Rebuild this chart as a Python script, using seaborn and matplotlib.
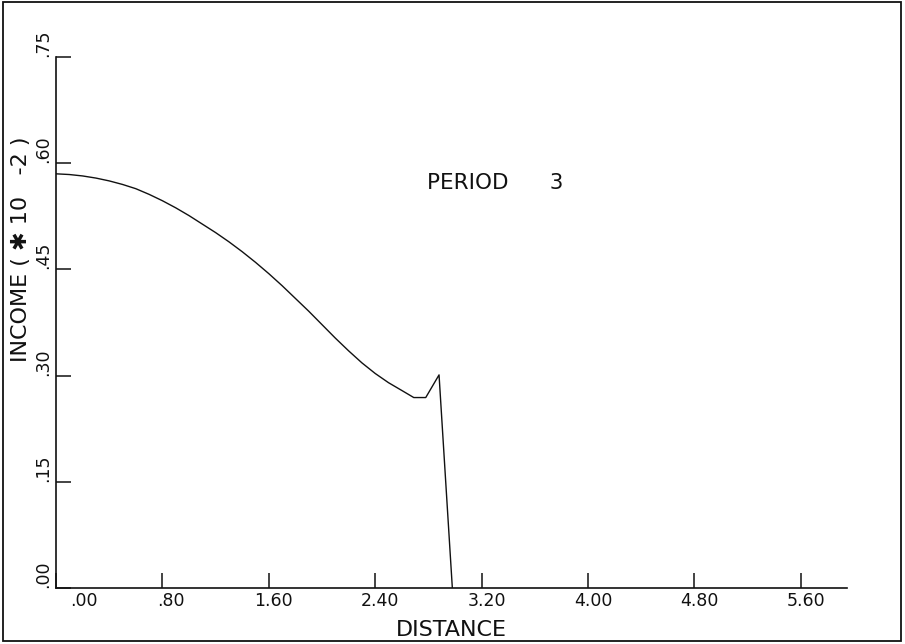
import matplotlib
matplotlib.use("Agg")
import matplotlib.pyplot as plt
from matplotlib.patches import Rectangle
from matplotlib.transforms import ScaledTranslation
import seaborn as sns
import pandas as pd

# ---- data ----
distance = [0.0, 0.1, 0.2, 0.3, 0.4, 0.5, 0.6, 0.7, 0.8, 0.9, 1.0, 1.1, 1.2, 1.3,
            1.4, 1.5, 1.6, 1.7, 1.8, 1.9, 2.0, 2.1, 2.2, 2.3, 2.4, 2.5, 2.6,
            2.69, 2.78, 2.88, 2.98]
income = [0.585, 0.584, 0.582, 0.579, 0.575, 0.570, 0.564, 0.556, 0.547, 0.537,
          0.526, 0.514, 0.502, 0.489, 0.475, 0.460, 0.444, 0.427, 0.409, 0.391,
          0.372, 0.353, 0.335, 0.318, 0.303, 0.290, 0.279, 0.269, 0.269, 0.301,
          0.000]
x_ticks = [0.0, 0.8, 1.6, 2.4, 3.2, 4.0, 4.8, 5.6]
x_tick_labels = [".00", ".80", "1.60", "2.40", "3.20", "4.00", "4.80", "5.60"]
y_ticks = [0.0, 0.15, 0.30, 0.45, 0.60, 0.75]
y_tick_labels = [".00", ".15", ".30", ".45", ".60", ".75"]
title_text = "PERIOD      3"
x_label = "DISTANCE"
y_label = "INCOME ( \u2731 10   -2 )"

df = pd.DataFrame({"distance": distance, "income": income})

sns.set_style("ticks")
plt.rcParams["font.family"] = ["DejaVu Sans"]
ink = "#111111"

W, H = 905, 644
fig = plt.figure(figsize=(W / 100, H / 100), dpi=100)
ax = fig.add_axes([56 / W, (H - 588) / H, (847 - 56) / W, (588 - 57) / H])

sns.lineplot(data=df, x="distance", y="income", sort=False, color=ink,
             linewidth=1.0, ax=ax, estimator=None)

ax.set_xlim(0, 791 / 133)
ax.set_ylim(0, 0.75)
for side in ["top", "right"]:
    ax.spines[side].set_visible(False)
for side in ["left", "bottom"]:
    ax.spines[side].set_linewidth(1.2)
    ax.spines[side].set_color(ink)

ax.set_xticks(x_ticks)
ax.set_xticklabels(x_tick_labels, fontsize=12.5, color=ink)
ax.set_yticks(y_ticks)
ax.set_yticklabels(y_tick_labels, fontsize=12.5, color=ink,
                   rotation=90, va="bottom", ha="right")
ax.tick_params(axis="both", which="major", direction="in", length=11, width=1.1,
               color=ink, bottom=True, left=True, top=False, right=False)
ax.tick_params(axis="x", pad=3)
ax.tick_params(axis="y", pad=2.5)

# shift x tick labels like the plotter output (slightly right of ticks)
shifts_px = [28, 8, 5, 5, 5, 5, 5, 5]
for lab, dx in zip(ax.get_xticklabels(), shifts_px):
    lab.set_transform(lab.get_transform() + ScaledTranslation(dx / 100, 0, fig.dpi_scale_trans))

ax.set_xlabel(x_label, fontsize=16, color=ink, labelpad=7)
ax.set_ylabel(y_label, fontsize=16, color=ink, rotation=90,
              ha="left", va="center", rotation_mode="anchor")
ax.yaxis.set_label_coords((21 - 56) / 791, (588 - 362) / 531)

ax.text(2.79, 0.5727, title_text, fontsize=15.5, color=ink,
        ha="left", va="center")

fig.patches.append(Rectangle((3 / W, 3 / H), 898 / W, 639 / H,
                             transform=fig.transFigure, fill=False,
                             edgecolor=ink, linewidth=1.3))

fig.savefig("out.png", dpi=100, facecolor="white")
